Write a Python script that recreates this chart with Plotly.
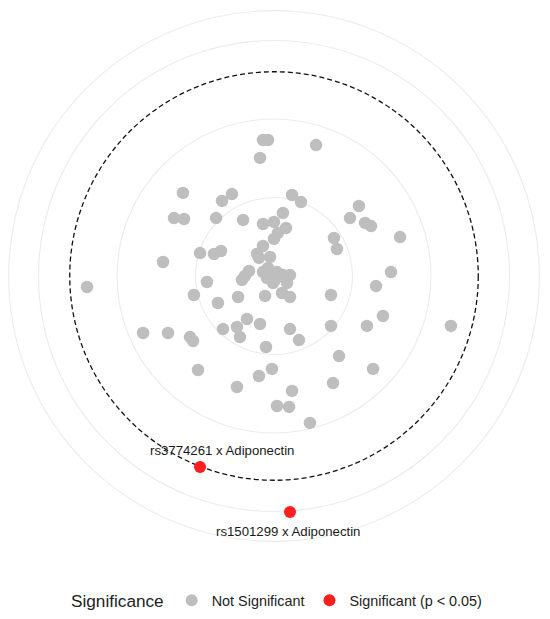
import numpy as np
import plotly.graph_objects as go

# Radial plot: each point placed by its horizontal / vertical component (in -log10(p) units)
ns_x = [-0.070, -0.038, 0.268, -0.089, -0.580, -0.268, -0.331, -0.637, -0.573, -0.369,
        -0.197, -0.070, 0.000, 0.057, 0.115, 0.172, 0.484, 0.541, 0.580, 0.618,
        0.803, 0.382, 0.401, 0.076, 0.025, 0.000, -0.070, -0.108, -0.096, -0.025,
        -0.471, -0.382, -0.338, -0.707, -1.191, -0.427, 0.745, 0.650, 0.363, -0.510,
        -0.229, -0.057, 0.051, 0.102, -0.204, -0.159, -0.185, -0.038, -0.045, 0.006,
        0.019, 0.057, 0.102, 0.083, -0.006, -0.019, -0.070, -0.357, -0.834, -0.675,
        -0.535, -0.516, -0.325, -0.236, -0.172, -0.089, -0.217, -0.051, 0.102, 0.159,
        0.363, 0.592, 0.694, 1.127, 0.414, -0.484, -0.013, -0.096, 0.631, 0.376,
        -0.236, 0.115, 0.019, 0.096, 0.229]
ns_y = [0.866, 0.866, 0.834, 0.752, 0.529, 0.522, 0.478, 0.369, 0.363, 0.369,
        0.357, 0.331, 0.344, 0.401, 0.516, 0.471, 0.369, 0.446, 0.338, 0.318,
        0.248, 0.242, 0.172, 0.306, 0.274, 0.236, 0.191, 0.140, 0.115, 0.121,
        0.146, 0.140, 0.159, 0.089, -0.070, -0.038, 0.025, -0.064, -0.121, -0.121,
        -0.134, -0.127, -0.108, -0.134, -0.025, 0.032, 0.000, 0.051, -0.013, -0.025,
        0.025, 0.006, 0.006, -0.045, -0.045, 0.006, 0.025, -0.172, -0.363, -0.363,
        -0.389, -0.414, -0.338, -0.325, -0.274, -0.306, -0.389, -0.452, -0.338, -0.408,
        -0.318, -0.318, -0.255, -0.318, -0.510, -0.599, -0.592, -0.637, -0.592, -0.682,
        -0.707, -0.732, -0.828, -0.834, -0.936]

sig_x = [-0.471, 0.102]
sig_y = [-1.217, -1.503]
sig_labels = ["rs3774261 x Adiponectin", "rs1501299 x Adiponectin"]

grid_radii = [0.5, 1.0, 1.5]
outer_radius = 1.69
threshold = -np.log10(0.05)

GREY = "#BEBEBE"
RED = "#FF1F1F"
FONT = "Liberation Sans, Arial, sans-serif"

fig = go.Figure()
fig.add_trace(go.Scatter(x=ns_x, y=ns_y, mode="markers", name="Not Significant",
                         marker=dict(color=GREY, size=12.5, line=dict(width=0))))
fig.add_trace(go.Scatter(x=sig_x, y=sig_y, mode="markers", name="Significant (p < 0.05)",
                         marker=dict(color=RED, size=12, line=dict(width=0))))

shapes = []
for r in grid_radii + [outer_radius]:
    shapes.append(dict(type="circle", xref="x", yref="y", x0=-r, x1=r, y0=-r, y1=r,
                       line=dict(color="#EBEDEB", width=1.2), layer="below"))
shapes.append(dict(type="circle", xref="x", yref="y", x0=-threshold, x1=threshold,
                   y0=-threshold, y1=threshold,
                   line=dict(color="#111111", width=1.3, dash="5px,3px"), layer="below"))

annotations = [
    dict(x=sig_x[0], y=sig_y[0], text=sig_labels[0], showarrow=False, xshift=22, yshift=17,
         font=dict(family=FONT, size=13.2, color="#1a1a1a")),
    dict(x=sig_x[1], y=sig_y[1], text=sig_labels[1], showarrow=False, xshift=-2, yshift=-20,
         font=dict(family=FONT, size=13.2, color="#1a1a1a")),
]

# page has an 8px body margin, so the figure is 8px smaller than the window on each side
W, H = 542, 611
cx, cy = 266, 268
scale = 157.0
fig.update_layout(
    width=W, height=H,
    margin=dict(l=0, r=0, t=0, b=0),
    paper_bgcolor="white", plot_bgcolor="white",
    xaxis=dict(range=[-cx / scale, (W - cx) / scale], visible=False, fixedrange=True),
    yaxis=dict(range=[-(H - cy) / scale, cy / scale], visible=False, fixedrange=True),
    shapes=shapes,
    annotations=annotations,
    showlegend=True,
    legend=dict(orientation="h", x=61 / W, xanchor="left", y=(H - 593) / H, yanchor="middle",
                title=dict(text="Significance", font=dict(family=FONT, size=17.2, color="#222222")),
                font=dict(family=FONT, size=14.4, color="#222222"),
                itemsizing="constant", bgcolor="rgba(0,0,0,0)"),
    font=dict(family=FONT),
)

fig.write_html("out.html")
